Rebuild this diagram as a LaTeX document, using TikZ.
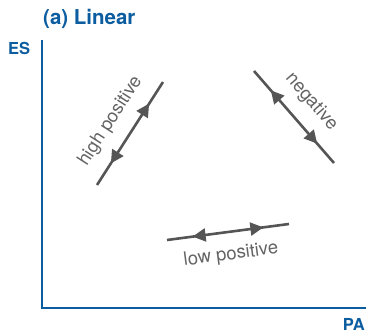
\documentclass[tikz,border=0pt]{standalone}
\usepackage{fontspec}
\setmainfont{TeX Gyre Heros}
\usetikzlibrary{arrows.meta,decorations.markings}
\definecolor{axisblue}{RGB}{12,92,160}
\definecolor{trendgray}{RGB}{85,85,85}
\definecolor{labgray}{RGB}{100,100,100}

\begin{document}
\begin{tikzpicture}[
    x=1pt, y=-1pt,
    axis/.style={draw=axisblue, line width=2.4pt},
    axlab/.style={font=\bfseries\fontsize{16.5}{18}\selectfont, text=axisblue, inner sep=0pt},
    ttl/.style={font=\bfseries\fontsize{20.5}{23}\selectfont, text=axisblue, inner sep=0pt},
    trend/.style={draw=trendgray, color=trendgray, line width=2.6pt, postaction={decorate},
        decoration={markings,
        mark=at position 0.21 with {\arrowreversed{Triangle[length=13pt,width=13pt]}},
        mark=at position 0.79 with {\arrow{Triangle[length=13pt,width=13pt]}}}},
    lab/.style={sloped, font=\fontsize{18.5}{20}\selectfont, text=labgray, inner sep=0pt}
]
\useasboundingbox (0,0) rectangle (366,334);

% axes
\coordinate (esTop) at (42,40);
\coordinate (orig) at (42,308);
\coordinate (paEnd) at (366,308);
\draw[axis] (esTop) -- (orig) -- (paEnd);
\node[ttl, anchor=base west] (title) at (43,25) {(a) Linear};
\node[axlab, anchor=base west] (es) at (8,55) {ES};
\node[axlab, anchor=base east] (pa) at (365,330) {PA};

% trends
\coordinate (hpLo) at (97,185);
\coordinate (hpHi) at (163,82);
\coordinate (ngHi) at (254,71);
\coordinate (ngLo) at (334,163);
\coordinate (lpL) at (167,240);
\coordinate (lpR) at (289,224);

\draw[trend] (hpLo) -- node[lab, above=13pt] (hpLab) {high positive} (hpHi);
\draw[trend] (ngHi) -- node[lab, above=13pt] (ngLab) {negative} (ngLo);
\draw[trend] (lpL) -- node[lab, below=13pt] (lpLab) {low positive} (lpR);
\end{tikzpicture}
\end{document}
